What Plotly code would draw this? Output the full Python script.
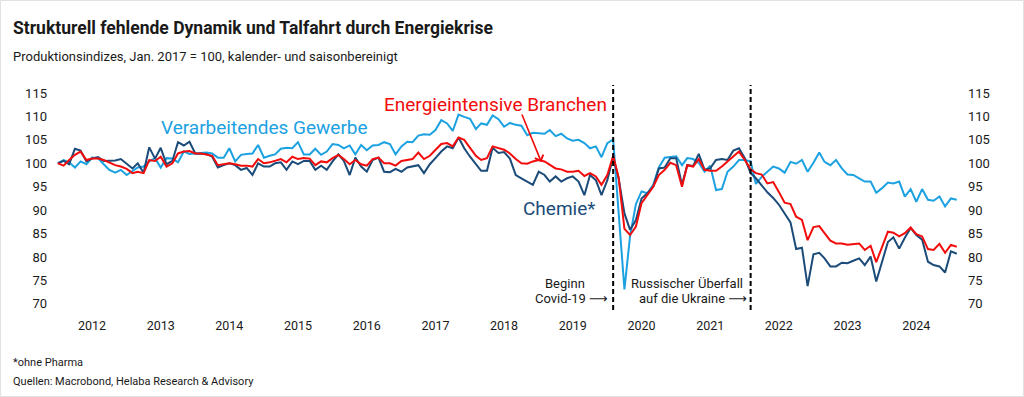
import plotly.graph_objects as go
import pandas as pd

# ---------------- data (monthly, Jan 2012 - Feb 2025) ----------------
start_month = "2012-01-01"

verarbeitendes_gewerbe = [
    100.0, 100.7, 100.2, 99.1, 100.4, 99.8, 101.2, 101.1, 99.8, 98.6, 98.0, 98.6,
    97.5, 98.4, 99.1, 99.3, 100.4, 101.1, 99.1, 101.1, 101.0, 100.2, 102.5, 102.0,
    102.1, 102.3, 102.3, 102.1, 101.2, 101.2, 103.2, 100.4, 101.8, 102.0, 102.1, 103.9,
    101.2, 101.6, 101.9, 103.1, 103.3, 103.2, 104.5, 101.9, 101.9, 103.1, 101.8, 102.5,
    104.1, 103.9, 103.2, 103.8, 101.9, 103.9, 102.8, 103.8, 103.9, 104.5, 104.1, 101.9,
    103.6, 104.6, 104.5, 105.9, 106.2, 106.1, 107.1, 109.2, 108.5, 106.9, 110.4, 109.9,
    109.5, 107.3, 108.5, 108.2, 110.2, 109.4, 107.8, 108.6, 108.2, 108.0, 106.0, 106.5,
    106.4, 106.3, 107.1, 105.8, 106.3, 105.3, 104.8, 105.0, 104.3, 103.2, 103.6, 101.3,
    104.3, 105.1, 89.5, 73.1, 84.5, 91.3, 94.0, 93.6, 95.4, 99.1, 101.2, 101.4,
    101.5, 99.6, 101.1, 100.9, 100.1, 98.2, 99.5, 94.3, 94.5, 98.2, 99.3, 100.7,
    100.7, 100.4, 95.6, 97.1, 98.2, 99.3, 98.9, 98.0, 100.3, 99.9, 100.7, 98.2,
    100.1, 102.3, 100.3, 99.6, 100.7, 98.9, 97.6, 97.5, 96.8, 96.1, 96.1, 93.7,
    94.7, 95.9, 95.7, 96.1, 92.9, 94.5, 91.8, 94.5, 92.2, 92.0, 92.9, 90.8,
    92.5, 92.2,
]

chemie = [
    100.0, 100.5, 99.8, 103.1, 102.7, 100.4, 101.0, 101.3, 100.5, 100.5, 100.6, 100.9,
    99.8, 98.9, 100.0, 98.0, 103.4, 101.0, 103.3, 99.8, 100.5, 104.5, 103.8, 104.6,
    102.1, 102.0, 102.0, 101.4, 99.1, 99.6, 100.0, 99.6, 98.6, 99.0, 97.5, 100.0,
    99.3, 99.3, 100.0, 100.2, 98.6, 100.4, 99.8, 100.5, 100.5, 98.6, 99.5, 98.6,
    100.4, 101.9, 100.5, 97.5, 101.2, 99.3, 98.2, 100.7, 101.2, 98.2, 98.1, 98.8,
    98.2, 99.1, 99.3, 99.6, 97.9, 99.8, 101.1, 102.5, 103.6, 103.2, 105.5, 103.2,
    101.4, 99.8, 98.4, 98.4, 103.3, 102.2, 102.4, 101.0, 97.5, 96.8, 96.1, 95.4,
    98.2, 97.5, 96.1, 97.2, 96.1, 96.8, 97.2, 96.1, 93.2, 97.5, 96.4, 93.2,
    96.4, 101.4, 96.8, 89.3, 85.8, 87.9, 92.5, 93.6, 95.0, 98.9, 99.1, 101.1,
    101.1, 95.4, 99.6, 99.4, 102.0, 98.6, 98.9, 100.7, 100.9, 100.7, 102.7, 103.2,
    101.1, 97.9, 96.8, 95.3, 93.8, 92.6, 91.2, 89.3, 87.4, 81.7, 82.0, 73.8,
    80.6, 80.9, 79.7, 78.0, 78.0, 78.8, 78.7, 79.2, 79.7, 78.3, 80.1, 74.8,
    79.2, 83.2, 84.2, 81.8, 84.1, 86.2, 84.7, 83.7, 79.0, 78.3, 78.0, 76.7,
    81.2, 80.7,
]

energieintensive = [
    100.0, 99.5, 100.7, 101.8, 102.5, 100.7, 101.0, 101.0, 100.7, 100.2, 99.6, 99.3,
    98.8, 97.9, 98.2, 97.9, 100.7, 100.5, 101.4, 99.3, 100.0, 102.1, 102.5, 102.6,
    102.1, 102.1, 101.9, 101.6, 99.6, 99.8, 100.0, 99.8, 99.5, 99.5, 99.3, 100.9,
    100.0, 100.2, 100.5, 100.9, 100.2, 101.4, 100.9, 101.1, 101.0, 99.6, 100.4, 100.2,
    101.1, 101.8, 100.9, 99.8, 100.7, 99.8, 99.5, 100.9, 101.2, 100.0, 100.0, 99.5,
    100.5, 100.7, 100.9, 102.3, 100.9, 101.6, 102.8, 104.1, 104.3, 103.6, 105.5, 105.0,
    103.3, 101.6, 100.7, 101.1, 103.6, 103.2, 102.9, 102.1, 100.9, 100.0, 99.9, 100.4,
    100.7, 100.4, 99.6, 98.9, 98.7, 98.2, 98.2, 98.4, 97.3, 97.9, 97.2, 95.4,
    97.5, 101.6, 97.0, 86.0, 84.7, 86.5, 91.5, 93.2, 95.0, 97.5, 98.6, 100.1,
    99.6, 95.0, 99.6, 99.3, 100.9, 98.6, 98.4, 98.4, 99.3, 100.4, 101.4, 102.5,
    100.7, 98.7, 97.9, 97.6, 95.7, 96.0, 93.9, 91.6, 91.3, 88.6, 87.9, 83.6,
    86.4, 86.6, 85.1, 83.5, 82.9, 82.9, 82.6, 82.8, 82.9, 81.5, 82.4, 78.9,
    82.2, 85.4, 85.2, 84.4, 85.1, 86.3, 84.9, 84.4, 81.7, 81.5, 82.8, 80.9,
    82.6, 82.2,
]

year_labels = [str(y) for y in range(2012, 2025)]
y_ticks = [70, 75, 80, 85, 90, 95, 100, 105, 110, 115]
event_dates = ["2020-02-01", "2022-02-01"]

months = pd.date_range(start_month, periods=len(chemie), freq="MS")

# ---------------- styling ----------------
C_LIGHT = "#1ca1e1"
C_DARK = "#1b4b78"
C_RED = "#f20c0c"
FONT = "Roboto, Arial, sans-serif"
TXT = "#1a1a1a"

W, H = 1024, 397
L, R, T, B = 52, 62, 85, 87
PW, PH = W - L - R, H - T - B


def px(x):
    return (x - L) / PW


def py(y):
    return (H - B - y) / PH


fig = go.Figure()
fig.add_trace(go.Scatter(x=months, y=verarbeitendes_gewerbe, mode="lines",
                         line=dict(color=C_LIGHT, width=2), name="Verarbeitendes Gewerbe"))
fig.add_trace(go.Scatter(x=months, y=chemie, mode="lines",
                         line=dict(color=C_DARK, width=2), name="Chemie*"))
fig.add_trace(go.Scatter(x=months, y=energieintensive, mode="lines",
                         line=dict(color=C_RED, width=2), name="Energieintensive Branchen"))
# invisible trace to activate right axis
fig.add_trace(go.Scatter(x=months[:1], y=[100], yaxis="y2", mode="markers",
                         marker=dict(opacity=0), hoverinfo="skip", showlegend=False))

yr = [68.7, 116.7]
fig.update_layout(
    width=W, height=H,
    margin=dict(l=L, r=R, t=T, b=B),
    paper_bgcolor="white", plot_bgcolor="white",
    showlegend=False,
    font=dict(family=FONT, color=TXT, size=13),
    xaxis=dict(
        range=["2011-12-01", "2025-03-01"],
        tickvals=[f"{y}-07-01" for y in year_labels],
        ticktext=year_labels,
        showgrid=False, zeroline=False, showline=False, ticks="",
        tickfont=dict(size=12.5, color=TXT),
        ticklabelstandoff=6,
    ),
    yaxis=dict(
        range=yr, tickvals=y_ticks, ticktext=[str(v) for v in y_ticks],
        showgrid=False, zeroline=False, showline=False, ticks="",
        tickfont=dict(size=13, color=TXT), ticklabelstandoff=4,
    ),
    yaxis2=dict(
        range=yr, tickvals=y_ticks, ticktext=[str(v) for v in y_ticks],
        overlaying="y", side="right",
        showgrid=False, zeroline=False, showline=False, ticks="",
        tickfont=dict(size=13, color=TXT), ticklabelstandoff=5,
    ),
)

# event lines
for d in event_dates:
    fig.add_shape(type="line", xref="x", yref="paper", x0=d, x1=d, y0=0, y1=1,
                  line=dict(color="black", width=2, dash="5px,3px"))

# light frame around the figure
fig.add_shape(type="rect", xref="paper", yref="paper",
              x0=px(0.5), x1=px(W - 0.5), y0=py(H - 0.5), y1=py(0.5),
              line=dict(color="#e2e2e2", width=1), layer="below")


def note(text, x, y, size, color=TXT, xanchor="left", bold=False, family=FONT):
    if bold:
        text = f"<b>{text}</b>"
    fig.add_annotation(text=text, xref="paper", yref="paper", x=px(x), y=py(y),
                       xanchor=xanchor, yanchor="middle", showarrow=False,
                       font=dict(family=family, size=size, color=color))


note("Strukturell fehlende Dynamik und Talfahrt durch Energiekrise", 11, 28, 17.5, bold=True)
note("Produktionsindizes, Jan. 2017 = 100, kalender- und saisonbereinigt", 11, 56.5, 13)
note("*ohne Pharma", 11, 362.5, 11)
note("Quellen: Macrobond, Helaba Research &amp; Advisory", 11, 381, 11)

note("Verarbeitendes Gewerbe", 159, 127, 19, C_LIGHT)
note("Energieintensive Branchen", 382, 104, 19, C_RED)
note("Chemie*", 521, 208.5, 19, C_DARK)

note("Beginn", 565, 283, 13, xanchor="center")
note("Covid-19 <span style='font-family:DejaVu Sans'>⟶</span>", 610, 298, 13, xanchor="right")
note("Russischer Überfall", 629, 283, 13)
note("auf die Ukraine <span style='font-family:DejaVu Sans'>⟶</span>", 749, 298, 13, xanchor="right")

# arrow pointing at the red line
fig.add_annotation(x="2019-01-15", y=100 - (162 - 163.3) / 4.69, xref="x", yref="y",
                   ax=-20, ay=-49, showarrow=True, arrowhead=4, arrowsize=1.1,
                   arrowwidth=1.6, arrowcolor=C_RED, text="")

fig.write_html("out.html",
               config={"displayModeBar": False},
               post_script="document.body.style.margin='0';document.body.style.overflow='hidden';")
